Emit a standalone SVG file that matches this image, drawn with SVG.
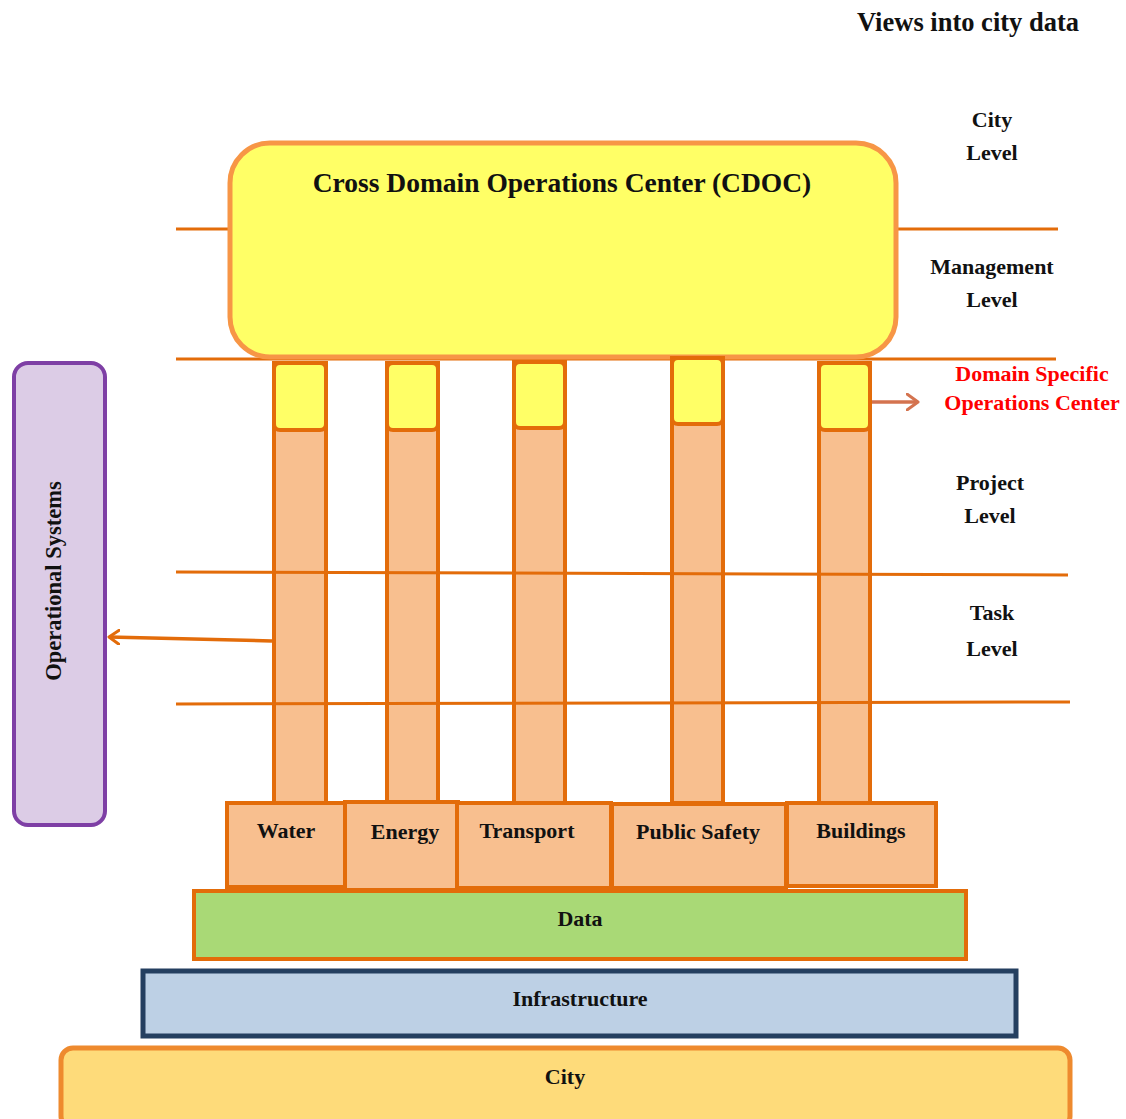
<svg xmlns="http://www.w3.org/2000/svg" width="1126" height="1119" viewBox="0 0 1126 1119">
<defs>
<style>
.t{font-family:"Liberation Serif","DejaVu Serif",serif;font-weight:bold;fill:#111;text-anchor:middle}
.lvl{font-size:22px}
.lane{stroke:#E36C0A;stroke-width:3;fill:none}
.pillar{fill:#F8BF8F;stroke:#E36C0A;stroke-width:4}
.cap{fill:#FFFF66;stroke:#E36C0A;stroke-width:4}
.dom{fill:#F8BF8F;stroke:#E36C0A;stroke-width:4}
.dt{font-size:22px}
</style>
<marker id="arrO" markerWidth="14" markerHeight="16" refX="11" refY="8" orient="auto" markerUnits="userSpaceOnUse">
<path d="M1,1 L11,8 L1,15" fill="none" stroke="#E36C0A" stroke-width="3" stroke-linecap="round" stroke-linejoin="round"/>
</marker>
<marker id="arrS" markerWidth="14" markerHeight="18" refX="12" refY="9" orient="auto" markerUnits="userSpaceOnUse">
<path d="M1,1 L12,9 L1,17" fill="none" stroke="#D4734F" stroke-width="3" stroke-linecap="round" stroke-linejoin="round"/>
</marker>
</defs>
<rect width="1126" height="1119" fill="#fff"/>

<text class="t" x="968" y="31" font-size="26.5">Views into city data</text>

<g id="connectors-lanes">
<line class="lane" x1="176" y1="229" x2="1058" y2="229"/>
<line class="lane" x1="176" y1="359" x2="1056" y2="359"/>
</g>

<g id="cdoc">
<rect x="230" y="143" width="666" height="214" rx="40" fill="#FFFF66" stroke="#F79646" stroke-width="5"/>
<text class="t" x="562" y="192" font-size="27.5">Cross Domain Operations Center (CDOC)</text>
</g>

<g id="pillar-water">
<rect class="pillar" x="274" y="363" width="52" height="440"/>
<rect class="cap" x="274" y="363" width="52" height="67" rx="6"/>
</g>
<g id="pillar-energy">
<rect class="pillar" x="387" y="363" width="51" height="440"/>
<rect class="cap" x="387" y="363" width="51" height="67" rx="6"/>
</g>
<g id="pillar-transport">
<rect class="pillar" x="514" y="362" width="51" height="441"/>
<rect class="cap" x="514" y="362" width="51" height="66" rx="6"/>
</g>
<g id="pillar-publicsafety">
<rect class="pillar" x="672" y="358" width="51" height="445"/>
<rect class="cap" x="672" y="358" width="51" height="66" rx="6"/>
</g>
<g id="pillar-buildings">
<rect class="pillar" x="819" y="363" width="51" height="440"/>
<rect class="cap" x="819" y="363" width="51" height="67" rx="6"/>
</g>

<g id="connectors">
<line class="lane" x1="176" y1="572" x2="1068" y2="575"/>
<line class="lane" x1="176" y1="704" x2="1070" y2="702"/>
<line x1="272" y1="641" x2="109" y2="637" stroke="#E36C0A" stroke-width="3.5" marker-end="url(#arrO)"/>
<line x1="872" y1="402" x2="918" y2="402" stroke="#D4734F" stroke-width="3.5" marker-end="url(#arrS)"/>
</g>

<g id="operational-systems">
<rect x="14" y="363" width="91" height="462" rx="14" fill="#DCCCE6" stroke="#7E3FA5" stroke-width="4"/>
<text class="t" font-size="22.5" transform="translate(61,581) rotate(-90)">Operational Systems</text>
</g>

<g id="domain-water">
<rect class="dom" x="227" y="803" width="118" height="84"/>
<text class="t dt" x="286" y="838">Water</text>
</g>
<g id="domain-energy">
<rect class="dom" x="345" y="802" width="113" height="88"/>
<text class="t dt" x="405" y="839">Energy</text>
</g>
<g id="domain-transport">
<rect class="dom" x="457" y="803" width="154" height="85"/>
<text class="t dt" x="527" y="838">Transport</text>
</g>
<g id="domain-publicsafety">
<rect class="dom" x="612" y="804" width="174" height="84"/>
<text class="t dt" x="698" y="839">Public Safety</text>
</g>
<g id="domain-buildings">
<rect class="dom" x="787" y="803" width="149" height="83"/>
<text class="t dt" x="861" y="838">Buildings</text>
</g>

<g id="data">
<rect x="194" y="891" width="772" height="68" fill="#A9D976" stroke="#E36C0A" stroke-width="4"/>
<text class="t" x="580" y="926" font-size="22">Data</text>
</g>
<g id="infrastructure">
<rect x="143" y="971" width="873" height="65" fill="#BDD0E5" stroke="#243F60" stroke-width="5"/>
<text class="t" x="580" y="1006" font-size="22">Infrastructure</text>
</g>
<g id="city">
<rect x="61" y="1048" width="1009" height="80" rx="12" fill="#FEDB7A" stroke="#EE8A2E" stroke-width="5"/>
<text class="t" x="565" y="1084" font-size="22">City</text>
</g>

<g id="level-labels">
<text class="t lvl" x="992" y="127">City</text>
<text class="t lvl" x="992" y="160">Level</text>
<text class="t lvl" x="992" y="274">Management</text>
<text class="t lvl" x="992" y="307">Level</text>
<text class="t lvl" x="1032" y="381" style="fill:#FF0000">Domain Specific</text>
<text class="t lvl" x="1032" y="410" style="fill:#FF0000">Operations Center</text>
<text class="t lvl" x="990" y="490">Project</text>
<text class="t lvl" x="990" y="523">Level</text>
<text class="t lvl" x="992" y="620">Task</text>
<text class="t lvl" x="992" y="656">Level</text>
</g>
</svg>
